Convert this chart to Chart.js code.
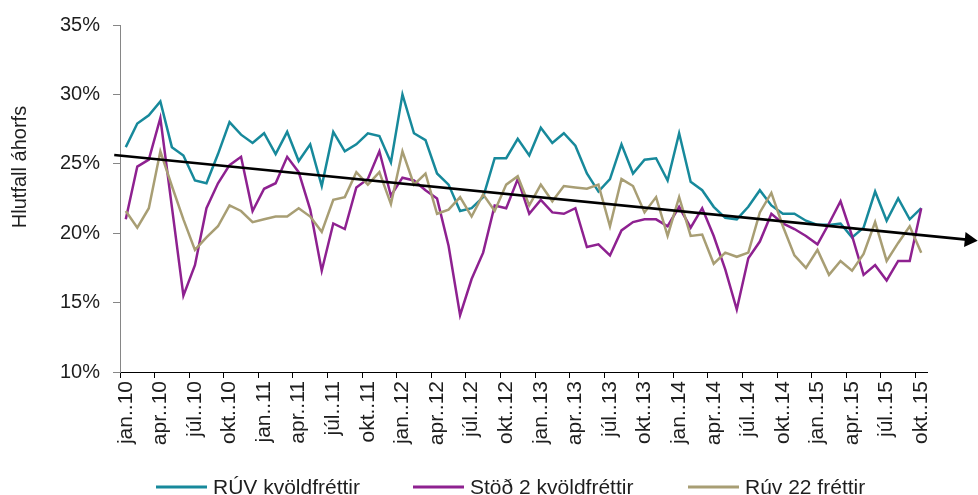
<!DOCTYPE html>
<html><head><meta charset="utf-8">
<script src="https://cdn.jsdelivr.net/npm/chart.js@4"></script>
<style>html,body{margin:0;padding:0;background:#fff}#wrap{width:978px;height:495px;position:relative}</style>
</head><body><div id="wrap"><canvas id="c" width="978" height="495"></canvas></div>
<script>
// ---- data ----
const monthNames = ['jan.','feb.','mar.','apr.','maí.','jún.','júl.','ágú.','sep.','okt.','nóv.','des.'];
const years = ['10','11','12','13','14','15'];
const monthCount = 70;
const categories = [];
for (const y of years) for (const m of monthNames) if (categories.length < monthCount) categories.push(m + '.' + y);

const seriesNames = ['RÚV kvöldfréttir', 'Stöð 2 kvöldfréttir', 'Rúv 22 fréttir'];

const ruvKvold = [26.2,27.9,28.5,29.5,26.2,25.6,23.8,23.6,25.7,28.0,27.1,26.5,27.2,25.7,27.3,25.2,26.4,23.4,
  27.3,25.9,26.4,27.2,27.0,25.1,30.0,27.2,26.7,24.3,23.5,21.6,21.8,22.6,25.4,25.4,26.8,
  25.6,27.6,26.5,27.2,26.3,24.3,23.0,23.9,26.4,24.3,25.3,25.4,23.8,27.2,23.7,23.1,21.9,
  21.1,21.0,21.9,23.1,22.0,21.4,21.4,20.9,20.6,20.6,20.7,19.7,20.4,23.0,20.9,22.5,21.0,21.8];

const stod2Kvold = [21.0,24.8,25.3,28.3,21.9,15.5,17.7,21.8,23.6,24.9,25.5,21.6,23.2,23.6,25.5,24.4,21.7,17.3,
  20.7,20.3,23.3,23.9,25.9,22.7,24.0,23.8,23.1,22.5,19.1,14.1,16.7,18.6,22.0,21.8,23.9,
  21.4,22.4,21.5,21.4,21.8,19.0,19.2,18.4,20.2,20.8,21.0,21.0,20.5,21.9,20.4,21.8,19.8,
  17.4,14.5,18.2,19.4,21.4,20.7,20.3,19.8,19.2,20.7,22.3,19.8,17.0,17.7,16.6,18.0,18.0,21.8];

const ruv22 = [21.6,20.4,21.8,25.9,23.4,21.0,18.8,19.7,20.5,22.0,21.6,20.8,21.0,21.2,21.2,21.8,21.2,20.1,
  22.4,22.6,24.4,23.5,24.4,22.1,25.9,23.5,24.3,21.4,21.7,22.6,21.2,22.8,21.6,23.5,24.1,
  22.0,23.5,22.3,23.4,23.3,23.2,23.5,20.5,23.9,23.4,21.5,22.6,19.8,22.6,19.8,19.9,17.8,
  18.6,18.3,18.6,21.5,22.9,20.5,18.4,17.5,18.8,17.0,18.0,17.3,18.5,20.8,18.0,19.3,20.5,18.6];

// trend arrow (category index, value)
const trendIndex = [-1.0, 73.9];
const trendValue = [25.63, 19.46];

const yTicks = [10, 15, 20, 25, 30, 35];
const yTitle = 'Hlutfall áhorfs';

// ---- styles ----
const colors = ['#17899B', '#8E2190', '#A89E74'];
const FONT = "'Liberation Sans', Arial, sans-serif";
const TEXT = '#1e1e1e';

const decor = {
  id: 'decor',
  afterDatasetsDraw(chart) {
    const {ctx, scales: {x, y}} = chart;
    const x0 = x.getPixelForValue(trendIndex[0]), y0 = y.getPixelForValue(trendValue[0]);
    const x1 = x.getPixelForValue(trendIndex[1]), y1 = y.getPixelForValue(trendValue[1]);
    const ang = Math.atan2(y1 - y0, x1 - x0);
    const L = 13, W = 7.5;
    ctx.save();
    ctx.strokeStyle = '#000'; ctx.fillStyle = '#000'; ctx.lineWidth = 2.6;
    ctx.beginPath();
    ctx.moveTo(x0, y0);
    ctx.lineTo(x1 - Math.cos(ang) * (L - 2), y1 - Math.sin(ang) * (L - 2));
    ctx.stroke();
    ctx.beginPath();
    ctx.moveTo(x1, y1);
    ctx.lineTo(x1 - Math.cos(ang) * L - Math.sin(ang) * W, y1 - Math.sin(ang) * L + Math.cos(ang) * W);
    ctx.lineTo(x1 - Math.cos(ang) * L + Math.sin(ang) * W, y1 - Math.sin(ang) * L - Math.cos(ang) * W);
    ctx.closePath(); ctx.fill();
    ctx.restore();
  },
  afterDraw(chart) {
    const ctx = chart.ctx;
    ctx.save();
    ctx.fillStyle = TEXT;
    // y title
    ctx.font = '20px ' + FONT;
    ctx.save();
    ctx.translate(20, 167);
    ctx.rotate(-Math.PI / 2);
    ctx.textAlign = 'center'; ctx.textBaseline = 'middle';
    ctx.fillText(yTitle, 0, 0);
    ctx.restore();
    // legend
    ctx.font = '21px ' + FONT;
    const legendX = [156, 413, 688];
    const ly = 487;
    ctx.textAlign = 'left'; ctx.textBaseline = 'middle';
    seriesNames.forEach((name, i) => {
      ctx.strokeStyle = colors[i]; ctx.lineWidth = 3;
      ctx.beginPath(); ctx.moveTo(legendX[i], ly); ctx.lineTo(legendX[i] + 51, ly); ctx.stroke();
      ctx.fillText(name, legendX[i] + 57, ly + 1);
    });
    ctx.restore();
  }
};

const seriesData = [ruvKvold, stod2Kvold, ruv22];

new Chart(document.getElementById('c'), {
  type: 'line',
  data: {
    labels: categories,
    datasets: seriesData.map((d, i) => ({
      label: seriesNames[i], data: d, borderColor: colors[i], backgroundColor: colors[i],
      borderWidth: 2.5, pointRadius: 0, tension: 0, fill: false, order: 3 - i
    }))
  },
  options: {
    responsive: false, animation: false, devicePixelRatio: 1,
    layout: {padding: {top: 19, right: 51, left: 0, bottom: 0}},
    plugins: {legend: {display: false}, tooltip: {enabled: false}},
    scales: {
      x: {
        type: 'category', offset: true,
        grid: {offset: true, drawOnChartArea: false, tickLength: 6, lineWidth: 1,
          color: (c) => (c.index % 3 === 0 ? '#000' : 'rgba(0,0,0,0)')},
        border: {display: true, color: '#000', width: 1},
        ticks: {autoSkip: false, maxRotation: 90, minRotation: 90, padding: 3, color: TEXT,
          font: {family: FONT, size: 21},
          callback: (v, i) => (i % 3 === 0 ? categories[i] : '')},
        afterFit: (s) => { s.height = 123; }
      },
      y: {
        min: yTicks[0], max: yTicks[yTicks.length - 1],
        afterBuildTicks: (s) => { s.ticks = yTicks.map(v => ({value: v})); },
        grid: {drawOnChartArea: false, tickLength: 7, color: '#868686'},
        border: {display: true, color: '#868686', width: 1},
        ticks: {padding: 13, color: TEXT, font: {family: FONT, size: 20}, callback: (v) => v + '%'},
        afterFit: (s) => { s.width = 120; }
      }
    }
  },
  plugins: [decor]
});
</script></body></html>
